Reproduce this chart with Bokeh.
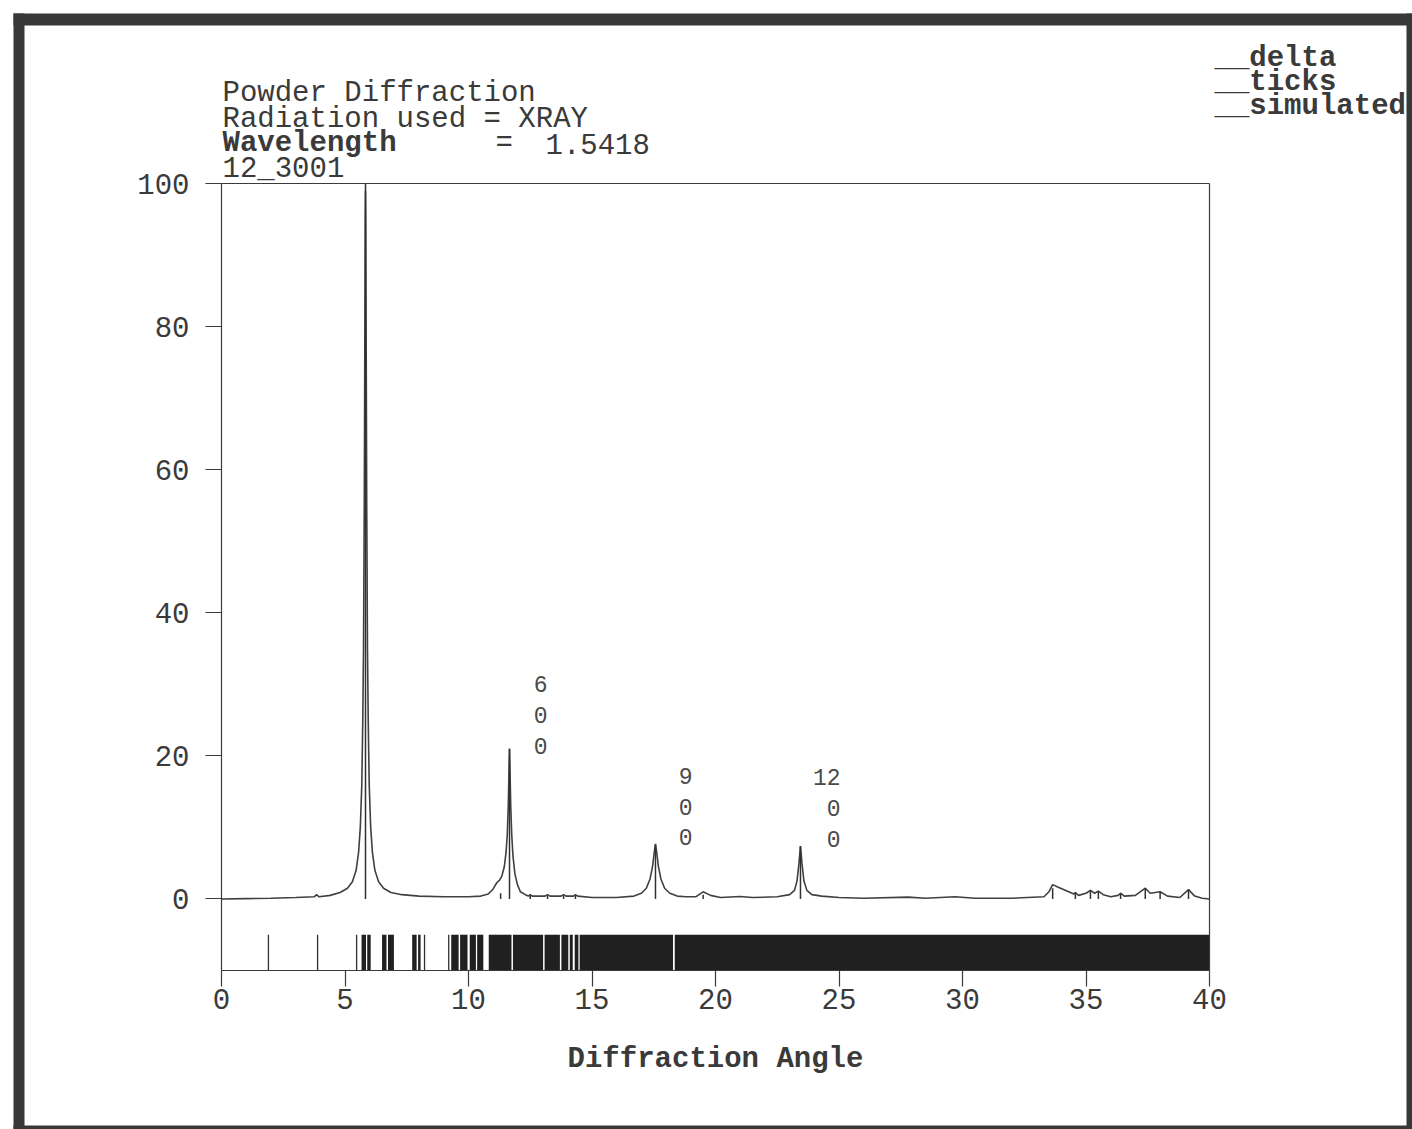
from bokeh.plotting import figure
from bokeh.models import Range1d, FixedTicker, BoxAnnotation, LinearAxis
from bokeh.embed import file_html
from bokeh.resources import INLINE
from bokeh.core.properties import value

FONT = "Liberation Mono"
INK = "#3a3a3a"
FS = "29px"

# ---------------- data ----------------
x_ticks = [0, 5, 10, 15, 20, 25, 30, 35, 40]
y_ticks = [0, 20, 40, 60, 80, 100]

# simulated profile (diffraction angle, intensity)
sim_x = [0.0, 1.0, 2.0, 3.0, 3.75, 3.85, 3.95, 4.4, 4.8, 5.1, 5.3, 5.45, 5.55, 5.62,
         5.68, 5.72, 5.75, 5.78, 5.80, 5.82, 5.83, 5.84, 5.86, 5.88, 5.91, 5.94,
         5.98, 6.04, 6.11, 6.21, 6.36, 6.56, 6.86, 7.3, 8.0, 9.0, 10.0, 10.5, 10.8,
         11.0, 11.15, 11.25, 11.35, 11.45, 11.52, 11.57, 11.61, 11.64, 11.66, 11.68,
         11.71, 11.75, 11.8, 11.88, 11.98, 12.1, 12.3, 12.42, 12.5, 12.58, 13.1,
         13.2, 13.3, 13.75, 13.85, 13.95, 14.25, 14.33, 14.42, 15.0, 16.0, 16.7,
         17.0, 17.2, 17.35, 17.45, 17.52, 17.57, 17.62, 17.69, 17.79, 17.94, 18.15,
         18.45, 18.8, 19.2, 19.5, 19.8, 20.2, 21.0, 21.5, 22.5, 23.0, 23.2, 23.3,
         23.38, 23.44, 23.5, 23.58, 23.7, 23.9, 24.3, 25.0, 26.0, 27.8, 28.5, 29.7,
         30.5, 32.0, 33.3, 33.5, 33.65, 33.9, 34.3, 34.5, 34.57, 34.7, 35.0, 35.18,
         35.35, 35.5, 35.7, 36.0, 36.3, 36.4, 36.55, 37.0, 37.4, 37.6, 38.0, 38.3,
         38.8, 39.15, 39.4, 39.7, 40.0]
sim_y = [0.0, 0.05, 0.1, 0.2, 0.3, 0.6, 0.3, 0.5, 0.9, 1.5, 2.4, 4.0, 6.5, 10.0,
         16.0, 25.0, 35.0, 55.0, 75.0, 95.0, 99.0, 95.0, 75.0, 55.0, 35.0, 25.0,
         16.0, 10.0, 6.5, 4.0, 2.4, 1.5, 0.9, 0.6, 0.4, 0.3, 0.3, 0.4, 0.7,
         1.4, 2.3, 2.6, 3.2, 4.5, 6.5, 9.0, 13.0, 18.0, 21.0, 18.0,
         13.0, 9.0, 6.0, 3.5, 2.0, 1.0, 0.6, 0.4, 0.6, 0.4, 0.4,
         0.6, 0.4, 0.4, 0.6, 0.4, 0.4, 0.6, 0.4, 0.2, 0.2, 0.4,
         0.8, 1.5, 2.8, 4.5, 6.5, 7.7, 6.5, 4.5, 2.8, 1.5, 0.8,
         0.4, 0.3, 0.3, 1.0, 0.5, 0.2, 0.35, 0.2, 0.3, 0.6, 1.2, 2.5,
         5.0, 7.4, 5.0, 2.5, 1.2, 0.6, 0.4, 0.2, 0.1, 0.25, 0.1, 0.3,
         0.1, 0.1, 0.3, 1.0, 2.0, 1.6, 1.0, 0.7, 0.9, 0.5, 0.8, 1.2,
         0.8, 1.1, 0.6, 0.3, 0.5, 0.8, 0.4, 0.5, 1.5, 0.8, 1.0, 0.4,
         0.2, 1.3, 0.4, 0.1, 0.0]

# delta sticks (reflection positions, intensity)
delta_x = [5.83, 11.66, 17.57, 23.44, 11.3, 12.5, 13.2, 13.85, 14.33, 19.5,
           33.65, 34.57, 35.18, 35.5, 36.4, 37.4, 38.0, 39.15]
delta_y = [100.0, 21.0, 7.6, 7.4, 0.8, 0.5, 0.5, 0.5, 0.5, 0.6,
           1.5, 0.9, 1.2, 1.1, 0.8, 1.5, 1.0, 1.3]

# reflection tick marks: isolated lines and dense bands
tick_single = [1.90, 3.89, 5.47, 8.22, 9.2]
band_left = [5.67, 5.90, 6.50, 6.74, 7.72, 7.96, 9.30, 9.66, 10.05, 10.35,
             10.82, 11.80, 13.08, 13.76, 14.10, 14.30, 14.50, 18.35]
band_right = [5.85, 6.04, 6.68, 6.98, 7.90, 8.06, 9.60, 9.96, 10.30, 10.60,
              11.74, 13.02, 13.70, 14.04, 14.22, 14.45, 18.28, 40.0]

# Miller index labels of the main peaks
hkl_x = [13.2, 19.07, 25.06]
hkl_y = [30.0, 17.2, 17.0]
hkl_h = ["6", "9", "12"]
hkl_k = ["0", "0", "0"]
hkl_l = ["0", "0", "0"]

header_lines = ["Powder Diffraction", "Radiation used = XRAY", "12_3001"]
wave_key, wave_eq, wave_val = "Wavelength", "=", "1.5418"
legend_items = ["__delta", "__ticks", "__simulated"]

# ---------------- layout (pixel placement of the plot box) ----------------
W, H = 1412, 1129
BOX_L, BOX_R, BOX_T, BOX_B = 221, 1209, 183, 970   # pixel edges of the plot box
X0, X1, Y0, Y1 = 0.0, 40.0, -10.0, 100.0           # data edges of the plot box
sx = (BOX_R - BOX_L) / (X1 - X0)
sy = (BOX_B - BOX_T) / (Y1 - Y0)


def px_x(px):
    return X0 + (px - BOX_L) / sx


def px_y(py):
    return Y1 + (BOX_T - py) / sy


p = figure(width=W, height=H, output_backend="svg", toolbar_location=None,
           x_range=Range1d(px_x(0), px_x(W)), y_range=Range1d(px_y(H), px_y(0)),
           min_border=0, x_axis_type=None, y_axis_type=None)
p.background_fill_color = "white"
p.border_fill_color = "white"
p.outline_line_color = None
p.grid.visible = False


def style_axis(ax):
    ax.axis_line_color = INK
    ax.axis_line_width = 1.2
    ax.major_tick_line_color = INK
    ax.major_tick_line_width = 1.2
    ax.major_tick_out = 16
    ax.major_tick_in = 0
    ax.minor_tick_line_color = None
    ax.major_label_text_font = FONT
    ax.major_label_text_font_size = FS
    ax.major_label_text_color = INK


xaxis = LinearAxis(fixed_location=Y0, bounds=(X0, X1), ticker=FixedTicker(ticks=x_ticks))
style_axis(xaxis)
xaxis.major_label_standoff = 2
xaxis.axis_label = "Diffraction Angle"
xaxis.axis_label_text_font = FONT
xaxis.axis_label_text_font_size = FS
xaxis.axis_label_text_font_style = "bold"
xaxis.axis_label_text_color = INK
xaxis.axis_label_standoff = 31
p.add_layout(xaxis, "below")

yaxis = LinearAxis(fixed_location=X0, bounds=(Y0, Y1), ticker=FixedTicker(ticks=y_ticks))
style_axis(yaxis)
yaxis.major_label_standoff = 16
p.add_layout(yaxis, "left")

# top and right edges of the plot box
for loc, side, bnds in ((Y1, "above", (X0, X1)), (X1, "right", (Y0, Y1))):
    ax = LinearAxis(fixed_location=loc, bounds=bnds, ticker=FixedTicker(ticks=[]))
    ax.axis_line_color = INK
    ax.axis_line_width = 1.2
    ax.major_label_text_font_size = "0px"
    ax.minor_tick_line_color = None
    p.add_layout(ax, side)

# ticks band
p.quad(left=band_left, right=band_right, bottom=-10, top=-5,
       fill_color="#202020", line_color=None)
p.segment(x0=tick_single, y0=-10, x1=tick_single, y1=-5, line_color="#303030",
          line_width=1.3)

# simulated profile
p.line(sim_x, sim_y, line_color="#404040", line_width=1.6)
# delta sticks
p.segment(x0=delta_x, y0=0, x1=delta_x, y1=delta_y, line_color="#303030",
          line_width=1.5)

# hkl labels
for rows, off in ((hkl_h, 0.0), (hkl_k, 4.3), (hkl_l, 8.6)):
    p.text(x=hkl_x, y=[v - off for v in hkl_y], text=rows,
           text_font=value(FONT), text_font_size="23px", text_align="right",
           text_baseline="middle", text_color="#4a4a4a")

# header block
p.text(x=[px_x(222)] * 3, y=[px_y(93), px_y(119), px_y(169)], text=header_lines,
       text_font=value(FONT), text_font_size=FS, text_color=INK,
       text_baseline="alphabetic")
p.text(x=[px_x(222)], y=[px_y(143)], text=[wave_key], text_font=value(FONT),
       text_font_size=FS, text_font_style="bold", text_color=INK,
       text_baseline="alphabetic")
p.text(x=[px_x(495), px_x(545)], y=[px_y(143)] * 2, text=[wave_eq, wave_val],
       text_font=value(FONT), text_font_size=FS, text_color=INK,
       text_baseline="alphabetic")

# legend text
p.text(x=[px_x(1214)] * 3, y=[px_y(58), px_y(82), px_y(106)], text=legend_items,
       text_font=value(FONT), text_font_size=FS, text_font_style="bold",
       text_color=INK, text_baseline="alphabetic")

# outer frame of the picture
for l, r, t, b in [(13, 24, 13, H), (13, W, 13, 25), (1406, W, 13, H), (13, W, 1125, H)]:
    p.add_layout(BoxAnnotation(left=l, right=r, top=t, bottom=b,
                               left_units="canvas", right_units="canvas",
                               top_units="canvas", bottom_units="canvas",
                               fill_color="#383838", fill_alpha=1.0,
                               line_alpha=0, level="overlay"))

open("out.html", "w").write(file_html(p, INLINE))
